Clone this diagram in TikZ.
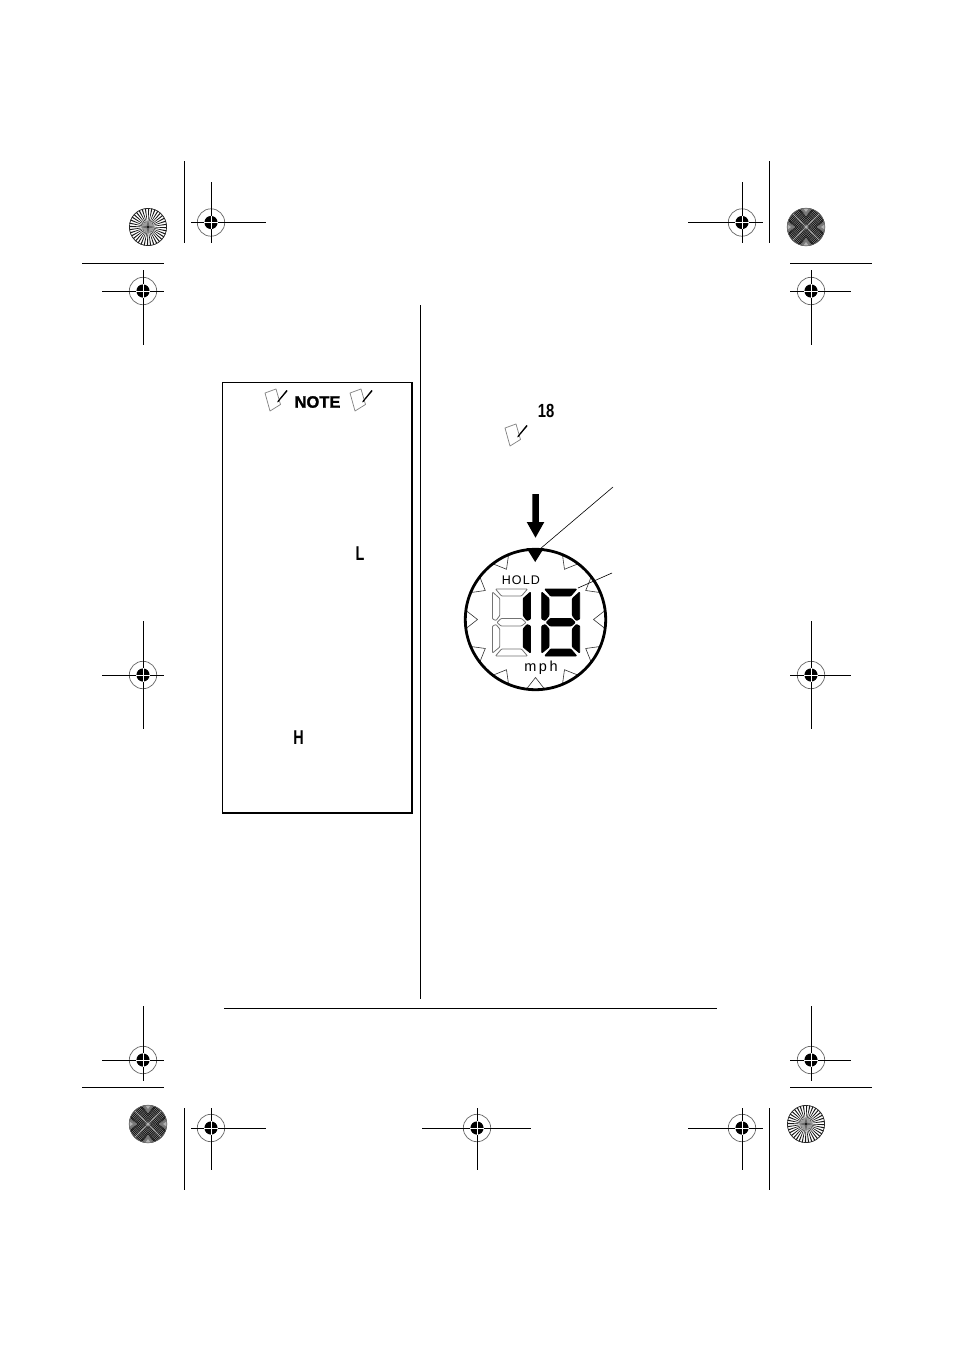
\documentclass[tikz,border=0pt]{standalone}
\usepackage{fontspec}
\usetikzlibrary{calc}
\setmainfont{Liberation Sans}
\tikzset{
  x=1pt,y=-1pt,
  cropline/.style={black,line width=1pt},
  regline/.style={black,line width=1pt},
  rule/.style={black,line width=1pt},
  segon/.style={fill=black,draw=black,line width=.9pt,line join=round,rounded corners=.8pt},
  segoff/.style={fill=white,draw=black!55,line width=.8pt,line join=round,rounded corners=.8pt},
  lcd/.style={inner sep=0pt,outer sep=0pt,font=\bfseries\fontsize{#1}{#1}\selectfont},
  tickmark/.style={fill=white,draw=black!80,line width=.6pt,line join=miter},
  leader/.style={black,line width=.6pt},
}
\newcommand{\rmark}[7]{%
  \coordinate (#1) at (#2,#3);
  \draw[black!60,line width=.7pt] (#1) circle[radius=13.7];
  \draw[regline] (#4,#3) -- (#5,#3);
  \draw[regline] (#2,#6) -- (#2,#7);
  \fill[black] (#1) circle[radius=6.6];
  \draw[white,line width=.8pt] ($(#1)+(-6.6,0)$) -- ($(#1)+(6.6,0)$);
  \draw[white,line width=.8pt] ($(#1)+(0,-6.6)$) -- ($(#1)+(0,6.6)$);
}
\newcommand{\burst}[3]{%
  \begin{scope}[shift={(#2,#3)}]
    \coordinate (#1) at (0,0);
    \fill[white] (0,0) circle[radius=19];
    \foreach \a in {0,10,...,350}{
      \fill[black!90] (0,0) -- (\a:18.8) arc[start angle=\a,end angle=\a+3.6,radius=18.8] -- cycle;
    }
    \fill[black!38] (0,0) circle[radius=5.5];
    \fill[black!60] (-7,0) -- (0,-1.5) -- (7,0) -- (0,1.5) -- cycle;
    \fill[black!60] (0,-7) -- (1.5,0) -- (0,7) -- (-1.5,0) -- cycle;
    \fill[black] (0,0) circle[radius=1.1];
    \draw[black!85,line width=.7pt] (0,0) circle[radius=18.6];
  \end{scope}
}
\newcommand{\moire}[3]{%
  \begin{scope}[shift={(#2,#3)}]
    \coordinate (#1) at (0,0);
    \begin{scope}
      \clip (0,0) circle[radius=19];
      \fill[black!42] (-20,-20) rectangle (20,20);
      \foreach \r in {2.2,4.4,...,36}{
        \draw[black!92,line width=.85pt] (\r,0) -- (0,\r) -- (-\r,0) -- (0,-\r) -- cycle;
      }
      \foreach \a in {0,90,180,270}{
        \begin{scope}[rotate=\a]
          \fill[black!52] (-6,-19.5) -- (6,-19.5) -- (0,-11) -- cycle;
          \draw[black!85,line width=.7pt] (-7,-17) -- (0,-9.5) -- (7,-17);
          \fill[black!30] (-2.5,-18.5) -- (2.5,-18.5) -- (0,-15) -- cycle;
        \end{scope}
      }
      \foreach \a in {45,135,225,315}{\draw[black!30,line width=.7pt] (\a:2) -- (\a:20);}
      \fill[black!30] (0,-2) -- (2,0) -- (0,2) -- (-2,0) -- cycle;
    \end{scope}
    \draw[black!60,line width=.5pt] (0,0) circle[radius=18.9];
  \end{scope}
}
\newcommand{\noteicon}[3]{%
  \begin{scope}[shift={(#2,#3)}]
    \coordinate (#1) at (0,0);
    \draw[black!50,line width=.7pt,line join=round]
      (0,4) -- (11,0) -- (15.5,15.5) -- (5,22) -- cycle;
    \fill[black] (21.5,1) -- (22.6,2) -- (13.5,12.8) -- (12.3,13.4) -- (12.6,12) -- cycle;
  \end{scope}
}
\begin{document}
\begin{tikzpicture}
\useasboundingbox (0,0) rectangle (954,1352);
\fill[white] (0,0) rectangle (954,1352);

% crop lines
\draw[cropline] (184.5,161) -- (184.5,243);
\draw[cropline] (769.5,161) -- (769.5,243);
\draw[cropline] (82,263.5) -- (164,263.5);
\draw[cropline] (790,263.5) -- (872,263.5);
\draw[cropline] (82,1087.5) -- (164,1087.5);
\draw[cropline] (790,1087.5) -- (872,1087.5);
\draw[cropline] (184.5,1108) -- (184.5,1190);
\draw[cropline] (769.5,1108) -- (769.5,1190);

% registration marks
\rmark{ra}{211}{222.5}{191}{266}{182}{243}
\rmark{rb}{742}{222.5}{688}{763}{182}{243}
\rmark{rc}{143}{291}{102}{164}{270}{345}
\rmark{rd}{811}{291}{790}{851}{270}{345}
\rmark{re}{143}{675}{102}{164}{621}{729}
\rmark{rf}{811}{675}{790}{851}{621}{729}
\rmark{rg}{143}{1060}{102}{164}{1006}{1081}
\rmark{rh}{811}{1060}{790}{851}{1006}{1081}
\rmark{ri}{211}{1128}{191}{266}{1108}{1170}
\rmark{rj}{477}{1128}{422}{531}{1108}{1170}
\rmark{rk}{742}{1128}{688}{763}{1108}{1170}

% colour bars
\burst{ba}{148}{227}
\moire{bb}{806}{227}
\moire{bc}{148}{1124}
\burst{bd}{806}{1124}

% page rules
\draw[rule] (420.5,305) -- (420.5,999);
\draw[rule] (224,1008.5) -- (717,1008.5);

% note box
\draw[black,line width=1pt] (222.5,382.5) rectangle (412,812.5);
\draw[black,line width=2pt] (412,382) -- (412,812.7) -- (222,812.7);

\noteicon{ia}{265}{389}
\noteicon{ib}{350}{389}
\noteicon{ic}{505}{424}
\node[inner sep=0pt,font=\addfontfeatures{FakeBold=1.5}\bfseries\fontsize{16.5}{18}\selectfont] (note) at (317.5,402) {NOTE};
\node[lcd=19,xscale=.78] (le) at (546,411) {18};
\node[lcd=20,xscale=.72] (ll) at (360,553.5) {L};
\node[lcd=20,xscale=.72] (lh) at (298.5,737.5) {H};

% display
\coordinate (dc) at (535.5,619.5);
\foreach \a in {30,60,...,330}{
  \begin{scope}[shift={(dc)},rotate=\a]
    \draw[tickmark] (-9,-69.5) -- (0,-58) -- (9,-69.5);
  \end{scope}
}
\fill[black] (526.5,548) -- (544,548) -- (535.2,562) -- cycle;
\draw[black,line width=2.8pt] (dc) circle[radius=70.2];

% press arrow
\fill[black] (532.3,494) -- (538.8,494) -- (538.8,522) -- (544.3,522) -- (535.5,537.7) -- (526.7,522) -- (532.3,522) -- cycle;

% left digit
\begin{scope}[shift={(492.5,589)}]
  \path[segoff] (3,0) -- (35,0) -- (29,7) -- (9,7) -- cycle;
  \path[segoff] (0,3) -- (7.3,9.5) -- (7.3,26.5) -- (3.5,31.5) -- (0,30) -- cycle;
  \path[segoff] (8.5,29.5) -- (29,29.5) -- (33.5,33.5) -- (29,37) -- (8.5,37) -- (4.5,33.5) -- cycle;
  \path[segoff] (0,37) -- (3.5,35.5) -- (7.3,40) -- (7.3,58) -- (0,64) -- cycle;
  \path[segoff] (3,67) -- (35,67) -- (29,60) -- (9,60) -- cycle;
  \path[segon] (38,3) -- (30.7,9.5) -- (30.7,26.5) -- (34.5,31.5) -- (38,30) -- cycle;
  \path[segon] (38,37) -- (34.5,35.5) -- (30.7,40) -- (30.7,58) -- (38,64) -- cycle;
\end{scope}
% right digit
\begin{scope}[shift={(541.7,589)}]
  \path[segon] (3,0) -- (35,0) -- (29,7) -- (9,7) -- cycle;
  \path[segon] (0,3) -- (7.3,9.5) -- (7.3,26.5) -- (3.5,31.5) -- (0,30) -- cycle;
  \path[segon] (38,3) -- (30.7,9.5) -- (30.7,26.5) -- (34.5,31.5) -- (38,30) -- cycle;
  \path[segon] (8.5,29.5) -- (29.5,29.5) -- (33.5,33.5) -- (29.5,37) -- (8.5,37) -- (4.5,33.5) -- cycle;
  \path[segon] (0,37) -- (3.5,35.5) -- (7.3,40) -- (7.3,58) -- (0,64) -- cycle;
  \path[segon] (38,37) -- (34.5,35.5) -- (30.7,40) -- (30.7,58) -- (38,64) -- cycle;
  \path[segon] (3,67) -- (35,67) -- (29,60) -- (9,60) -- cycle;
\end{scope}

\node[inner sep=0pt,font=\addfontfeatures{LetterSpace=9}\fontsize{12.5}{13}\selectfont] (hold) at (520.8,579.7) {HOLD};
\node[inner sep=0pt,anchor=base,font=\addfontfeatures{LetterSpace=17}\fontsize{14.5}{15}\selectfont] (mph) at (541,671) {mph};

% leaders
\coordinate (pa) at (613,487);
\coordinate (pb) at (540,549);
\coordinate (qa) at (612,573);
\coordinate (qb) at (578,588);
\draw[leader] (pa) -- (pb);
\draw[leader] (qa) -- (qb);
\end{tikzpicture}
\end{document}
